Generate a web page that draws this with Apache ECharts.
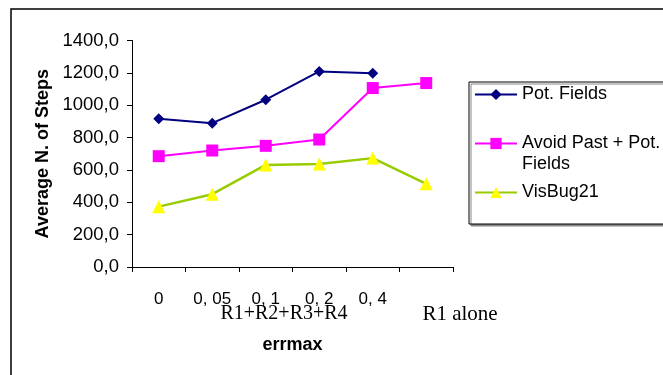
<!DOCTYPE html>
<html>
<head>
<meta charset="utf-8">
<script src="https://cdn.jsdelivr.net/npm/echarts@6/dist/echarts.min.js"></script>
<style>
  html, body { margin: 0; padding: 0; background: #fff; }
  #chart { width: 663px; height: 375px; }
</style>
</head>
<body>
<div id="chart"></div>
<script>
// errmax values (6th slot = R1 alone, no label)
const categories = ['0', '0, 05', '0, 1', '0, 2', '0, 4', ''];
const potFields = [916, 889, 1034, 1209, 1197, null];
const avoidPast = [685, 720, 749, 788, 1106, 1137];
const visBug21 = [373, 450, 631, 637, 673, 514];
const groupLabels = ['R1+R2+R3+R4', 'R1 alone'];

const sans = 'Liberation Sans, Arial, sans-serif';
const serif = 'Liberation Serif, Times New Roman, serif';

const chart = echarts.init(document.getElementById('chart'));

function fmt(v) {
    return v.toFixed(1).replace('.', ',');
}

const option = {
    backgroundColor: '#fff',
    animation: false,
    grid: { left: 132, top: 40.5, right: 210, bottom: 108 },
    legend: {
        orient: 'vertical',
        left: 469,
        top: 82,
        padding: [2, 60, 21, 5],
        itemWidth: 42,
        itemHeight: 14,
        itemGap: 7,
        backgroundColor: '#fff',
        borderColor: '#000',
        borderWidth: 1,
        shadowColor: '#888',
        shadowOffsetX: 2,
        shadowOffsetY: 2,
        shadowBlur: 0,
        textStyle: { fontFamily: sans, fontSize: 18, color: '#000', lineHeight: 21 },
        // empty first line keeps the two-line name's first line level with its icon
        formatter: name => name.indexOf('\n') >= 0 ? '\n' + name : name
    },
    xAxis: {
        type: 'category',
        data: categories,
        boundaryGap: true,
        name: 'errmax',
        nameLocation: 'middle',
        nameGap: 69,
        nameTextStyle: { fontFamily: sans, fontSize: 18, fontWeight: 'bold', color: '#000' },
        axisLine: { lineStyle: { color: '#000', width: 1 } },
        axisTick: { show: true, length: 5, lineStyle: { color: '#000' } },
        axisLabel: { fontFamily: sans, fontSize: 17, color: '#000', margin: 24, interval: 0 },
        splitLine: { show: false }
    },
    yAxis: {
        type: 'value',
        min: 0,
        max: 1400,
        interval: 200,
        name: 'Average N. of Steps',
        nameLocation: 'middle',
        nameGap: 80,
        nameTextStyle: { fontFamily: sans, fontSize: 18, fontWeight: 'bold', color: '#000' },
        axisLine: { show: true, lineStyle: { color: '#000', width: 1 } },
        axisTick: { show: true, length: 5, lineStyle: { color: '#000' } },
        axisLabel: { fontFamily: sans, fontSize: 18.5, color: '#000', margin: 13, formatter: fmt },
        splitLine: { show: false }
    },
    graphic: [
        {
            type: 'rect',
            z: -10,
            shape: { x: 11, y: 9, width: 700, height: 400 },
            style: { fill: 'none', stroke: '#000', lineWidth: 1.5 }
        },
        {
            type: 'text',
            x: 284, y: 314,
            style: { text: groupLabels[0], fontFamily: serif, fontSize: 20, fill: '#000', align: 'center', verticalAlign: 'middle' }
        },
        {
            type: 'text',
            x: 460, y: 314,
            style: { text: groupLabels[1], fontFamily: serif, fontSize: 21, fill: '#000', align: 'center', verticalAlign: 'middle' }
        }
    ],
    series: [
        {
            name: 'Pot. Fields',
            type: 'line',
            data: potFields,
            symbol: 'diamond',
            symbolSize: 11,
            itemStyle: { color: '#000080' },
            lineStyle: { color: '#000080', width: 2 }
        },
        {
            name: 'Avoid Past + Pot.\nFields',
            type: 'line',
            data: avoidPast,
            symbol: 'rect',
            symbolSize: 12,
            itemStyle: { color: '#ff00ff' },
            lineStyle: { color: '#ff00ff', width: 2 }
        },
        {
            name: 'VisBug21',
            type: 'line',
            data: visBug21,
            symbol: 'triangle',
            symbolSize: 13,
            itemStyle: { color: '#ffff00' },
            lineStyle: { color: '#99cc00', width: 2.5 }
        }
    ]
};

chart.setOption(option);
</script>
</body>
</html>
